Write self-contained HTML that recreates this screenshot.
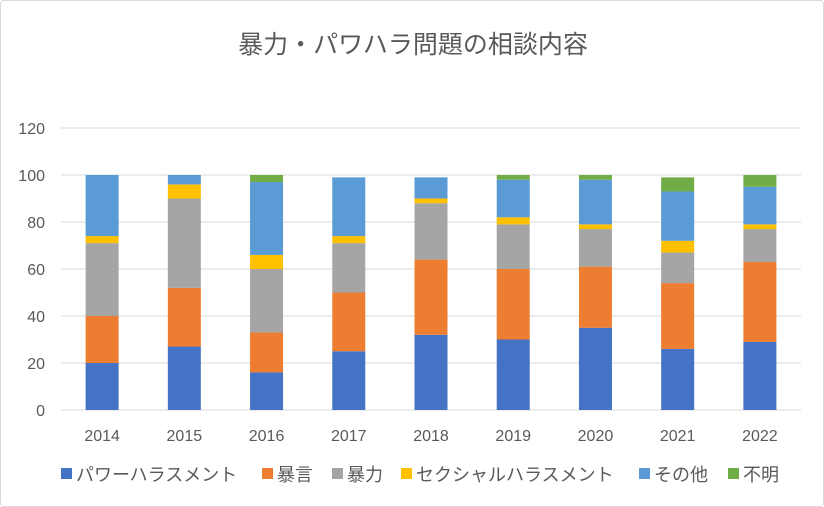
<!DOCTYPE html>
<html><head><meta charset="utf-8"><style>
body{margin:0;background:#fff;}
#wrap{width:824px;height:507px;position:relative;border:1px solid #d9d9d9;box-sizing:border-box;border-radius:4px;overflow:hidden;}
svg text{font-family:"Liberation Sans","Noto Sans CJK JP",sans-serif;}
</style></head><body>
<div id="wrap">
<svg id="chart" width="824" height="507">
<text x="412" y="52" text-anchor="middle" font-size="25" fill="#595959">暴力・パワハラ問題の相談内容</text>
</svg>
</div>
<script>
const categories=["2014","2015","2016","2017","2018","2019","2020","2021","2022"];
const seriesNames=["パワーハラスメント","暴言","暴力","セクシャルハラスメント","その他","不明"];
const colors=["#4472c4","#ed7d31","#a5a5a5","#ffc000","#5b9bd5","#70ad47"];
const power=[20,27,16,25,32,30,35,26,29];
const abuse=[20,25,17,25,32,30,26,28,34];
const violence=[31,38,27,21,24,19,16,13,14];
const sexual=[3,6,6,3,2,3,2,5,2];
const other=[26,4,31,25,9,16,19,21,16];
const unknown=[0,0,3,0,0,2,2,6,5];
const yTicks=[0,20,40,60,80,100,120];
const series=[power,abuse,violence,sexual,other,unknown];
const svg=document.getElementById('chart');
const NS='http://www.w3.org/2000/svg';
const x0=60,x1=800,yBase=409,yTop=127,yMax=120;
const y=v=>yBase-(v/yMax)*(yBase-yTop);
const slot=(x1-x0)/categories.length;
const xc=i=>x0+slot*(i+0.5);
function mk(tag,attrs){const e=document.createElementNS(NS,tag);for(const k in attrs)e.setAttribute(k,attrs[k]);svg.appendChild(e);return e;}
yTicks.forEach(t=>{
 const l=mk('line',{x1:x0,x2:x1,y1:y(t),y2:y(t),stroke:'#d9d9d9','stroke-width':1});
 
 
 const tx=mk('text',{x:44,y:y(t)+6,'text-anchor':'end','font-size':16,fill:'#595959'});
 tx.textContent=t;
 
 
});
const bw=33;
categories.forEach((c,i)=>{
 let cum=0;
 series.forEach((s,j)=>{
  const v=s[i];
  if(v>0){
   const r=mk('rect',{x:xc(i)-bw/2,y:y(cum+v),width:bw,height:y(cum)-y(cum+v),fill:colors[j]});
   
   
  }
  cum+=v;
 });
 const tx=mk('text',{x:xc(i),y:440,'text-anchor':'middle','font-size':16,fill:'#595959'});
 tx.textContent=c;
 
 
});
const legendX=[60,261,331,400,638,727];
seriesNames.forEach((n,j)=>{
 const r=mk('rect',{x:legendX[j],y:467,width:11,height:11,fill:colors[j]});
 
 
 const t=mk('text',{x:legendX[j]+15,y:480,'font-size':18,fill:'#595959'});
 t.textContent=n;
 
 
});
</script>
</body></html>
